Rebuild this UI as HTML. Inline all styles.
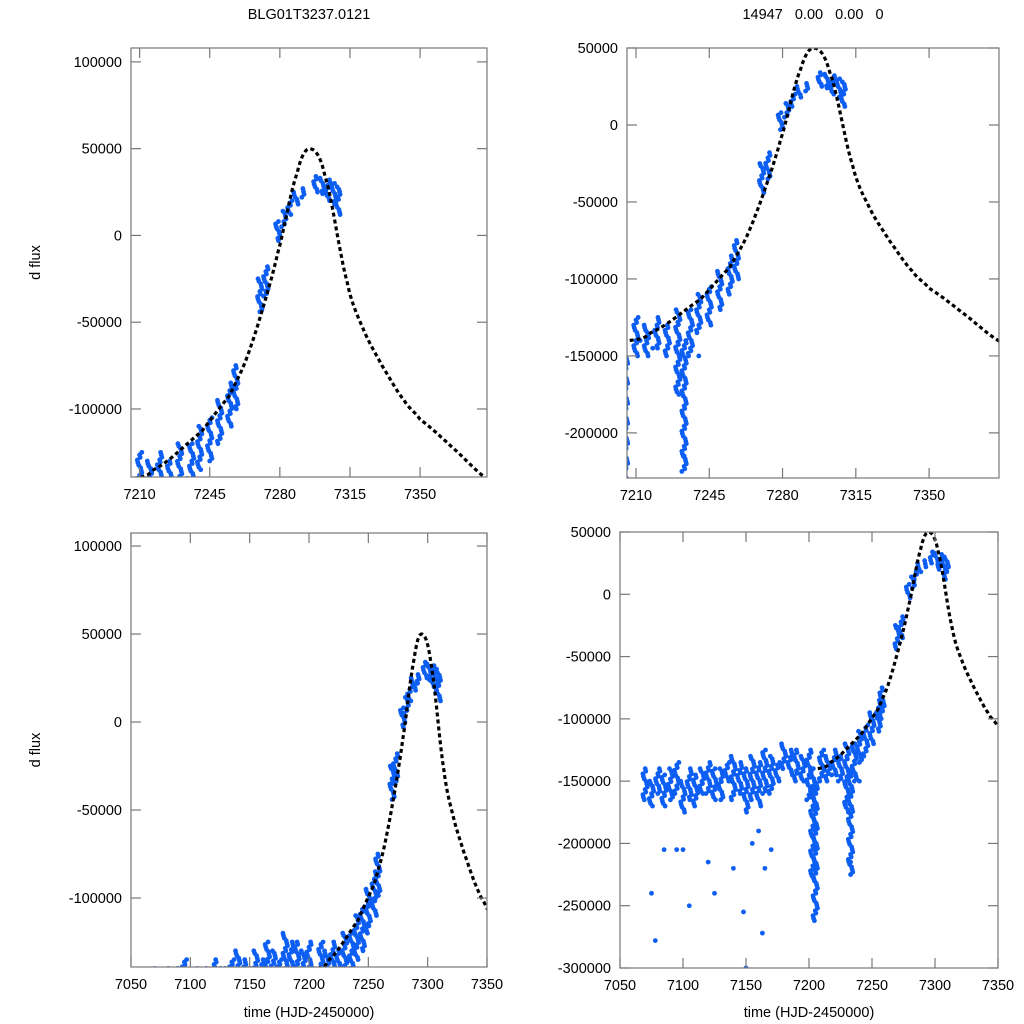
<!DOCTYPE html>
<html><head><meta charset="utf-8"><style>
html,body{margin:0;background:#fff;width:1024px;height:1024px;overflow:hidden;}
svg{display:block;font-family:"Liberation Sans",sans-serif;overflow:hidden;}
</style></head><body>
<svg id="chart" width="1024" height="1024" viewBox="0 0 1024 1024"></svg>
<script>
// ---- data ----
const streakT  = [7070,7075,7080,7085,7090,7095,7100,7105,7110,7115,7120,7125,7130,7135,7140,7145,7150,7155,7160,7165,7170,7175,7180,7185,7190,7195,7200,7203,7205,7210,7215,7220,7225,7230,7233,7236,7240,7245,7250,7255,7258,7270,7273,7279,7282,7285,7288,7291,7298,7301,7304,7307,7309];
const streakLo = [-165,-170,-160,-170,-165,-160,-175,-165,-170,-160,-160,-165,-165,-150,-165,-160,-175,-165,-170,-160,-160,-150,-140,-145,-150,-150,-165,-230,-262,-150,-150,-145,-150,-175,-225,-150,-135,-130,-120,-110,-100,-44,-35,-3,5,12,18,22,25,24,20,18,12];
const streakHi = [-140,-150,-140,-145,-140,-135,-150,-140,-145,-140,-135,-140,-140,-135,-130,-135,-140,-130,-135,-125,-130,-135,-120,-125,-125,-130,-125,-140,-150,-125,-130,-125,-130,-120,-140,-120,-110,-105,-95,-85,-75,-25,-18,8,14,20,25,27,34,33,32,30,28];
const outT = [7075,7078,7085,7095,7100,7105,7120,7125,7140,7148,7150,7155,7160,7163,7170,7165,7240,7233,7212,7218];
const outF = [-240,-278,-205,-205,-205,-250,-215,-240,-220,-255,-300,-200,-190,-272,-205,-220,-150,-215,-140,-145];
const modelT = [7207,7217,7241,7255,7263,7271,7279,7288.6,7295,7302.6,7313.6,7322,7331,7342,7350,7366,7383,7395];
const modelF = [-140,-135,-113,-92,-72,-44,-10,36,50,34,-27,-55,-75,-95,-106,-122,-140,-150];
const panels = [
 {name:'top-left', x0:131,x1:487,y0:48,y1:477, tmin:7205.7,tmax:7383.4, fmin:-139200,fmax:108000, xt:[7210,7245,7280,7315,7350], yt:[100000,50000,0,-50000,-100000], title:'BLG01T3237.0121', ylab:true, xlab:false},
 {name:'top-right', x0:627,x1:999,y0:48,y1:478, tmin:7205.7,tmax:7383.4, fmin:-229300,fmax:50000, xt:[7210,7245,7280,7315,7350], yt:[50000,0,-50000,-100000,-150000,-200000], title:'14947   0.00   0.00   0', ylab:false, xlab:false},
 {name:'bottom-left', x0:131,x1:487,y0:533,y1:967, tmin:7050,tmax:7350, fmin:-139200,fmax:107400, xt:[7050,7100,7150,7200,7250,7300,7350], yt:[100000,50000,0,-50000,-100000], title:'', ylab:true, xlab:true},
 {name:'bottom-right', x0:620,x1:998,y0:532,y1:968, tmin:7050,tmax:7350, fmin:-300000,fmax:50000, xt:[7050,7100,7150,7200,7250,7300,7350], yt:[50000,0,-50000,-100000,-150000,-200000,-250000,-300000], title:'', ylab:false, xlab:true}
];
// ---- drawing ----
const NS='http://www.w3.org/2000/svg';
const svg=document.getElementById('chart');
const jit=[0,-1.8,1.6,0.6,-0.9,2.2,-2.3,1.0];
function mk(tag,attrs,parent){const e=document.createElementNS(NS,tag);for(const k in attrs)e.setAttribute(k,attrs[k]);(parent||svg).appendChild(e);return e;}
panels.forEach((p,pi)=>{
  const sx=t=>p.x0+(t-p.tmin)/(p.tmax-p.tmin)*(p.x1-p.x0);
  const sy=f=>p.y1-(f-p.fmin)/(p.fmax-p.fmin)*(p.y1-p.y0);
  const g=mk('g',{});
  
  
  const cid='clip'+pi;
  const cp=mk('clipPath',{id:cid},g);
  mk('rect',{x:p.x0,y:p.y0,width:p.x1-p.x0,height:p.y1-p.y0},cp);
  const pts=mk('g',{'clip-path':'url(#'+cid+')',fill:'#0d5ef2'},g);
  
  
  streakT.forEach((t,i)=>{
    const lo=streakLo[i]*1000,hi=streakHi[i]*1000;
    const ya=sy(hi),yb=sy(lo);
    const n=Math.max(1,Math.round((yb-ya)/2.5));
    for(let k=0;k<=n;k++){
      mk('circle',{cx:sx(t)+jit[(k*3+i)%8],cy:ya+(yb-ya)*k/n,r:2.4},pts);
    }
  });
  outT.forEach((t,i)=>{mk('circle',{cx:sx(t),cy:sy(outF[i]*1000),r:2.4},pts);});
  let d='';
  for(let i=0;i<modelT.length-1;i++){
    for(let s=0;s<10;s++){
      const u=s/10, t=modelT[i]+(modelT[i+1]-modelT[i])*u;
      const p0=modelF[Math.max(0,i-1)],p1=modelF[i],p2=modelF[i+1],p3=modelF[Math.min(modelF.length-1,i+2)];
      const f=0.5*((2*p1)+(-p0+p2)*u+(2*p0-5*p1+4*p2-p3)*u*u+(-p0+3*p1-3*p2+p3)*u*u*u);
      d+=(d?'L':'M')+sx(t).toFixed(1)+','+sy(f*1000).toFixed(1);
    }
  }
  const mdl=mk('path',{d:d,fill:'none',stroke:'#000','stroke-width':3.2,'stroke-dasharray':'4,3','clip-path':'url(#'+cid+')'},g);
  
  
  const fr=mk('rect',{x:p.x0,y:p.y0,width:p.x1-p.x0,height:p.y1-p.y0,fill:'none',stroke:'#777','stroke-width':1.2},g);
  
  
  p.xt.forEach(t=>{
    const x=sx(t);
    mk('line',{x1:x,x2:x,y1:p.y1,y2:p.y1-10,stroke:'#777','stroke-width':1.2},g);
    mk('line',{x1:x,x2:x,y1:p.y0,y2:p.y0+10,stroke:'#777','stroke-width':1.2},g);
    const tx=mk('text',{x:x,y:p.y1+22,'text-anchor':'middle','font-size':14.5,fill:'#000'},g);
    tx.textContent=t;
    
    
  });
  p.yt.forEach(f=>{
    const y=sy(f);
    mk('line',{x1:p.x0,x2:p.x0+10,y1:y,y2:y,stroke:'#777','stroke-width':1.2},g);
    mk('line',{x1:p.x1,x2:p.x1-10,y1:y,y2:y,stroke:'#777','stroke-width':1.2},g);
    const tx=mk('text',{x:p.x0-9,y:y+5,'text-anchor':'end','font-size':14.5,fill:'#000'},g);
    tx.textContent=f;
    
    
  });
  if(p.title){
    const tt=mk('text',{x:(p.x0+p.x1)/2,y:19,'text-anchor':'middle','font-size':14.5,fill:'#000',style:'white-space:pre'},g);
    tt.textContent=p.title;
    
    
  }
  if(p.ylab){
    const cy=(p.y0+p.y1)/2;
    const yl=mk('text',{x:40,y:cy,'text-anchor':'middle','font-size':14.5,fill:'#000',transform:'rotate(-90 40 '+cy+')'},g);
    yl.textContent='d flux';
    
    
  }
  if(p.xlab){
    const xl=mk('text',{x:(p.x0+p.x1)/2,y:1017,'text-anchor':'middle','font-size':14.5,fill:'#000'},g);
    xl.textContent='time (HJD-2450000)';
    
    
  }
});
</script>
</body></html>
